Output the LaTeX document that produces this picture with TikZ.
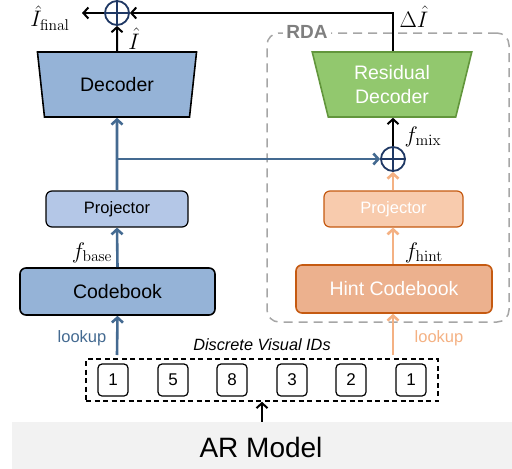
\documentclass[tikz,border=0pt]{standalone}
\usepackage{graphicx}
\usepackage[no-math]{fontspec}
\setsansfont{Liberation Sans}
\usetikzlibrary{arrows.meta,shapes.geometric,calc}
\definecolor{cblue}{RGB}{68,106,145}
\definecolor{bfill}{RGB}{149,179,215}
\definecolor{bfilll}{RGB}{180,199,231}
\definecolor{navy}{RGB}{31,56,100}
\definecolor{gfill}{RGB}{146,200,110}
\definecolor{gline}{RGB}{98,150,60}
\definecolor{ofill}{RGB}{236,177,142}
\definecolor{ofilll}{RGB}{248,203,173}
\definecolor{oline}{RGB}{197,90,17}
\definecolor{oarrow}{RGB}{244,177,131}
\definecolor{rdagray}{RGB}{166,166,166}
\definecolor{rdatext}{RGB}{127,127,127}
\definecolor{argray}{RGB}{242,242,242}
\newcommand{\mlbl}[1]{\scalebox{1.3}{$#1$}}
\tikzset{
  bigtxt/.style={font=\sffamily\fontsize{19.5}{24}\selectfont},
  smtxt/.style={font=\sffamily\fontsize{16.5}{20}\selectfont},
  mathlbl/.style={font=\fontsize{17.28}{20}\selectfont, inner sep=0pt},
  trap/.style={trapezium, shape border rotate=180, trapezium stretches=true,
    minimum width=160pt, minimum height=65pt, trapezium angle=76, inner sep=0pt,
    line width=1.6pt, align=center, bigtxt},
  rbox/.style={rectangle, rounded corners=6pt, inner sep=0pt},
  oplus/.style={circle, draw=navy, line width=1.8pt, minimum size=24pt, inner sep=0pt,
    path picture={\draw[navy, line width=1.5pt] (path picture bounding box.north) -- (path picture bounding box.south)
      (path picture bounding box.west) -- (path picture bounding box.east);}},
  barb/.style={-{Straight Barb[length=5pt,width=11pt]}},
  blkarr/.style={draw=black, line width=2pt, barb},
  bluearr/.style={draw=cblue, line width=2.6pt, barb},
  orarr/.style={draw=oarrow, line width=2.6pt, barb},
  idbox/.style={draw=black, line width=1.2pt, rounded corners=4pt, minimum width=30pt, minimum height=32pt,
    inner sep=0pt, font=\sffamily\fontsize{17}{20}\selectfont},
}
\begin{document}
\begin{tikzpicture}[x=1pt,y=-1pt]
\useasboundingbox (0,0) rectangle (512,469);

% RDA region
\node[draw=rdagray, dashed, dash pattern=on 9pt off 6pt, line width=1.5pt, rounded corners=12pt,
  minimum width=242pt, minimum height=289pt, inner sep=0pt] (rda) at (388,177.5) {};
\node[fill=white, inner sep=3pt, font=\sffamily\bfseries\fontsize{19}{22}\selectfont, text=rdatext] (rdal) at (307,32) {RDA};

% AR model
\node[fill=argray, minimum width=500pt, minimum height=48pt, inner sep=0pt] (ar) at (262,446) {};
\node[font=\sffamily\fontsize{28}{32}\selectfont] (art) at (261,447) {AR Model};

% Discrete IDs
\node[draw=black, dashed, dash pattern=on 5pt off 3.5pt, line width=1.5pt, minimum width=352pt, minimum height=42pt, inner sep=0pt] (ids) at (262,380) {};
\node[font=\sffamily\itshape\fontsize{16.3}{20}\selectfont] (idl) at (262,345) {Discrete Visual IDs};
\node[idbox] (i1) at (113,380) {1};
\node[idbox] (i2) at (173,380) {5};
\node[idbox] (i3) at (232,380) {8};
\node[idbox] (i4) at (292,380) {3};
\node[idbox] (i5) at (351,380) {2};
\node[idbox] (i6) at (411,380) {1};

% left branch
\node[rbox, draw=black, line width=1.6pt, fill=bfill, minimum width=195pt, minimum height=47pt, bigtxt] (codeL) at (117.5,291.5) {Codebook};
\node[rbox, draw=black, line width=1.2pt, fill=bfilll, minimum width=142pt, minimum height=36pt, smtxt] (projL) at (117,209) {Projector};
\node[trap, draw=black, fill=bfill] (dec) at (117,84.5) {Decoder};
\node[oplus] (op1) at (117,13) {};

% right branch
\node[rbox, draw=oline, line width=1.6pt, fill=ofill, minimum width=196pt, minimum height=48pt, bigtxt, text=white] (hint) at (394,289) {Hint Codebook};
\node[rbox, draw=oline, line width=1.2pt, fill=ofilll, minimum width=139pt, minimum height=36pt, smtxt, text=white] (projR) at (393.5,209) {Projector};
\node[oplus] (opm) at (393,159) {};
\node[trap, draw=gline, fill=gfill, text=white] (rd) at (392,84.5) {Residual\\Decoder};

% coordinates
\coordinate (lk1) at (117,355);
\coordinate (lk2) at (393,355);
\coordinate (br) at (117,159);
\coordinate (fin) at (82,13);

% connectors
\draw[blkarr] (ar.north -| ids.south) -- (ids.south);
\draw[bluearr] (lk1) -- (codeL.south);
\draw[bluearr] (codeL.north) -- (projL.south);
\draw[bluearr] (projL.north) -- (dec.south);
\draw[bluearr] (br) -- (opm.west);
\draw[orarr] (lk2) -- (hint.south -| lk2);
\draw[orarr] (hint.north -| lk2) -- (projR.south -| lk2);
\draw[orarr] (projR.north -| opm) -- (opm.south);
\draw[blkarr] (opm.north) -- (rd.south -| opm);
\draw[blkarr] (dec.north) -- (op1.south);
\draw[blkarr] (op1.west) -- (fin);
\draw[blkarr] (rd.north -| opm) |- (op1.east);

% labels
\node[smtxt, text=cblue] (lkl1) at (82,338) {lookup};
\node[smtxt, text=oarrow] (lkl2) at (439,338) {lookup};
\node[mathlbl] (lfb) at (92,253) {\mlbl{f_{\mathrm{base}}}};
\node[mathlbl] (lfh) at (424,253) {\mlbl{f_{\mathrm{hint}}}};
\node[mathlbl] (lfm) at (423,137) {\mlbl{f_{\mathrm{mix}}}};
\node[mathlbl] (lI) at (134,39) {\mlbl{\hat I}};
\node[mathlbl] (ldI) at (414,17) {\mlbl{\Delta\hat I}};
\node[mathlbl] (lfin) at (50,18) {\mlbl{\hat I_{\mathrm{final}}}};
\end{tikzpicture}
\end{document}
